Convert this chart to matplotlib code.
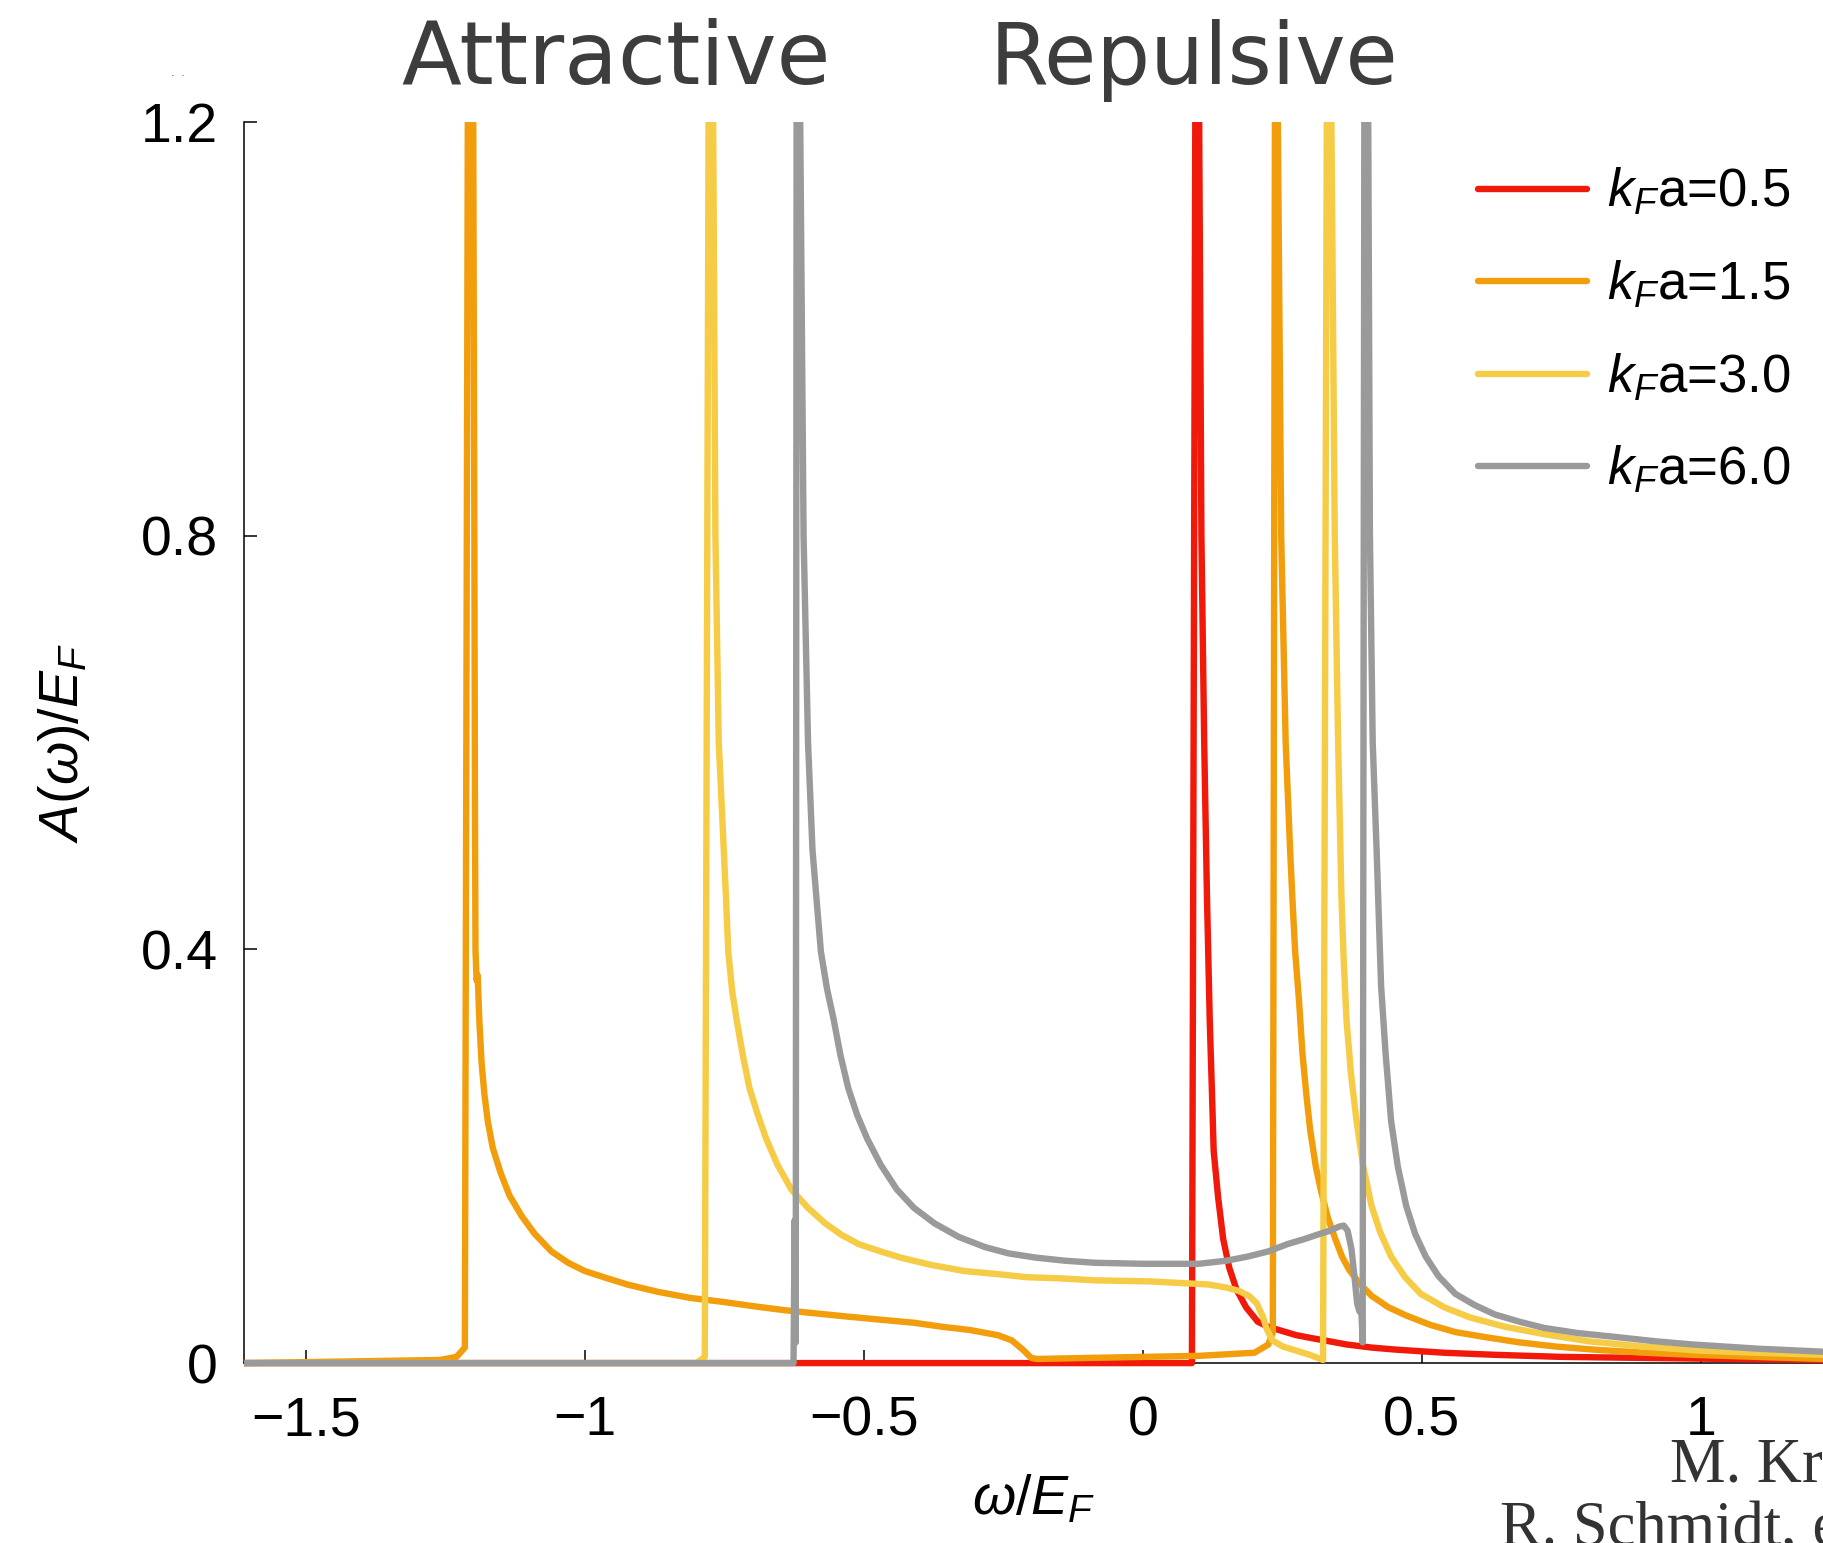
import numpy as np
import matplotlib
matplotlib.use("Agg")
import matplotlib.pyplot as plt
from matplotlib.patches import Rectangle

plt.rcParams['font.family'] = ['Liberation Sans', 'DejaVu Sans']
plt.rcParams['mathtext.fontset'] = 'custom'
plt.rcParams['mathtext.it'] = 'Liberation Sans:italic'
plt.rcParams['mathtext.rm'] = 'Liberation Sans'

# spectral functions (peaks go off the top of the axes)
red_x = [-1.611, 0.088, 0.096, 0.101, 0.105, 0.110, 0.115, 0.120, 0.124, 0.127, 0.135,
         0.144, 0.155, 0.168, 0.185, 0.206, 0.225, 0.250, 0.275, 0.304, 0.335,
         0.365, 0.41, 0.454, 0.54, 0.631, 0.75, 0.896, 1.05, 1.219]
red_y = [0.0, 0.0, 1.6, 1.2, 0.8, 0.6, 0.45, 0.33, 0.26, 0.205, 0.16,
         0.12, 0.092, 0.071, 0.054, 0.040, 0.035, 0.031, 0.027, 0.024, 0.021,
         0.018, 0.015, 0.013, 0.010, 0.008, 0.006, 0.005, 0.004, 0.003]

orange_x = [-1.611, -1.26, -1.23, -1.215, -1.208, -1.200, -1.198, -1.197, -1.196, -1.194,
            -1.192, -1.189, -1.185, -1.180, -1.174, -1.165, -1.151, -1.135, -1.113, -1.090,
            -1.060, -1.030, -1.0, -0.96, -0.924, -0.87, -0.811, -0.75, -0.698, -0.64,
            -0.585, -0.53, -0.471, -0.41, -0.358, -0.31, -0.26, -0.235, -0.215, -0.200,
            -0.19, 0.0, 0.10, 0.20, 0.225, 0.233, 0.238, 0.242, 0.248, 0.256,
            0.264, 0.268, 0.273, 0.280, 0.286, 0.293, 0.300, 0.310, 0.320, 0.332,
            0.345, 0.357, 0.370, 0.390, 0.410, 0.440, 0.472, 0.515, 0.560, 0.615,
            0.675, 0.74, 0.808, 0.90, 0.985, 1.1, 1.219]
orange_y = [0.0, 0.003, 0.006, 0.015, 1.6, 1.2, 0.8, 0.55, 0.40, 0.37,
            0.375, 0.33, 0.29, 0.26, 0.234, 0.208, 0.184, 0.162, 0.142, 0.125,
            0.108, 0.097, 0.089, 0.082, 0.076, 0.069, 0.063, 0.059, 0.055, 0.051,
            0.048, 0.045, 0.042, 0.039, 0.035, 0.032, 0.027, 0.022, 0.013, 0.005,
            0.004, 0.006, 0.007, 0.010, 0.018, 0.030, 1.6, 1.2, 0.8, 0.6,
            0.496, 0.45, 0.398, 0.35, 0.30, 0.26, 0.225, 0.19, 0.165, 0.14,
            0.12, 0.103, 0.09, 0.076, 0.065, 0.054, 0.046, 0.037, 0.030, 0.025,
            0.020, 0.016, 0.013, 0.010, 0.008, 0.006, 0.004]

yellow_x = [-1.611, -0.80, -0.785, -0.776, -0.770, -0.766, -0.760, -0.751, -0.747, -0.743,
            -0.736, -0.728, -0.717, -0.705, -0.690, -0.675, -0.655, -0.630, -0.600, -0.569,
            -0.540, -0.509, -0.470, -0.434, -0.38, -0.320, -0.26, -0.207, -0.15, -0.086,
            0.012, 0.118, 0.150, 0.171, 0.190, 0.204, 0.215, 0.222, 0.232, 0.251,
            0.275, 0.299, 0.323, 0.332, 0.338, 0.344, 0.350, 0.356, 0.360, 0.365,
            0.373, 0.383, 0.395, 0.410, 0.425, 0.445, 0.470, 0.498, 0.54, 0.587,
            0.65, 0.719, 0.80, 0.896, 1.0, 1.1, 1.219]
yellow_y = [0.0, 0.0, 0.006, 1.6, 1.2, 0.8, 0.6, 0.496, 0.45, 0.398,
            0.36, 0.332, 0.298, 0.266, 0.240, 0.217, 0.192, 0.168, 0.150, 0.135,
            0.124, 0.115, 0.108, 0.102, 0.095, 0.089, 0.086, 0.083, 0.082, 0.080,
            0.079, 0.076, 0.073, 0.070, 0.065, 0.058, 0.045, 0.033, 0.022, 0.016,
            0.012, 0.008, 0.003, 1.6, 1.2, 0.8, 0.6, 0.45, 0.39, 0.332,
            0.28, 0.234, 0.19, 0.152, 0.127, 0.103, 0.083, 0.067, 0.054, 0.044,
            0.035, 0.028, 0.021, 0.016, 0.012, 0.010, 0.008]

gray_x = [-1.611, -0.626, -0.624, -0.622, -0.620, -0.614, -0.608, -0.600, -0.592, -0.585,
          -0.577, -0.566, -0.554, -0.542, -0.528, -0.512, -0.494, -0.470, -0.441, -0.410,
          -0.373, -0.330, -0.282, -0.240, -0.192, -0.14, -0.086, 0.0, 0.100, 0.150,
          0.188, 0.225, 0.259, 0.290, 0.312, 0.335, 0.352, 0.360, 0.367, 0.374,
          0.380, 0.384, 0.388, 0.391, 0.394, 0.398, 0.404, 0.407, 0.412, 0.419,
          0.423, 0.427, 0.435, 0.445, 0.457, 0.472, 0.488, 0.507, 0.530, 0.560,
          0.595, 0.631, 0.675, 0.719, 0.78, 0.852, 0.92, 0.985, 1.1, 1.219]
gray_y = [0.0, 0.0, 0.138, 0.02, 1.6, 1.2, 0.8, 0.6, 0.496, 0.45,
          0.398, 0.362, 0.332, 0.298, 0.266, 0.240, 0.217, 0.192, 0.168, 0.150,
          0.135, 0.122, 0.112, 0.106, 0.102, 0.099, 0.097, 0.096, 0.096, 0.099,
          0.103, 0.108, 0.115, 0.120, 0.124, 0.128, 0.132, 0.133, 0.128, 0.110,
          0.080, 0.058, 0.050, 0.060, 0.020, 1.6, 1.2, 0.8, 0.6, 0.496,
          0.43, 0.365, 0.30, 0.234, 0.19, 0.152, 0.125, 0.103, 0.084, 0.067,
          0.056, 0.047, 0.040, 0.034, 0.029, 0.025, 0.021, 0.018, 0.014, 0.011]

labels = [r"$k_F$a=0.5", r"$k_F$a=1.5", r"$k_F$a=3.0", r"$k_F$a=6.0"]
colors = ['#F0190A', '#F29E0C', '#F6CB45', '#9A9A9A']

x_ticks = [-1.5, -1, -0.5, 0, 0.5, 1]
x_ticklabels = ["\u22121.5", "\u22121", "\u22120.5", "0", "0.5", "1"]
y_ticks = [0, 0.4, 0.8, 1.2]
y_ticklabels = ["0", "0.4", "0.8", "1.2"]

fig = plt.figure(figsize=(18.23, 15.43), dpi=100)
ax = fig.add_axes([0.1338, 0.1166, 0.8662, 0.8043])

# let the baseline curves show at full width under the axis line
clip = Rectangle((0, -0.005), 1, 1.005, transform=ax.transAxes, visible=False)
ax.add_patch(clip)

series = [(red_x, red_y), (orange_x, orange_y), (yellow_x, yellow_y), (gray_x, gray_y)]
for (xs, ys), lab, c in zip(series, labels, colors):
    line, = ax.plot(xs, ys, color=c, lw=4.6, label=lab,
                    solid_joinstyle='round', solid_capstyle='round')
    line.set_clip_path(clip)

ax.set_xlim(-1.611, 1.219)
ax.set_ylim(0, 1.2)

for side in ['top', 'right']:
    ax.spines[side].set_visible(False)
for side in ['left', 'bottom']:
    ax.spines[side].set_linewidth(1.1)
    ax.spines[side].set_zorder(0.5)

ax.set_xticks(x_ticks)
ax.set_xticklabels(x_ticklabels)
ax.set_yticks(y_ticks)
ax.set_yticklabels(y_ticklabels)
ax.tick_params(axis='both', direction='in', length=9.5, width=1.1, labelsize=40)
ax.tick_params(axis='x', pad=23)
ax.tick_params(axis='y', pad=19)

ax.set_xlabel(r"$\mathit{\omega/E_F}$", fontsize=40)
ax.xaxis.set_label_coords(0.5, -0.089)
ax.set_ylabel(r"$\mathit{A(\omega)/E_F}$", fontsize=40)
ax.yaxis.set_label_coords(-0.096, 0.5)

ax.legend(loc='upper left', bbox_to_anchor=(0.8108, 0.892), bbox_transform=fig.transFigure,
          frameon=False, fontsize=38, borderpad=0, borderaxespad=0,
          handlelength=2.06, handletextpad=0.38, labelspacing=0.78)

fig.text(401 / 1823, 1 - 84 / 1543, "Attractive", family='DejaVu Sans', fontsize=63,
         color='#3d3d3d', va='baseline')
fig.text(990 / 1823, 1 - 84 / 1543, "Repulsive", family='DejaVu Sans', fontsize=61,
         color='#3d3d3d', va='baseline')
fig.text(0.094, 0.951, ".  .", fontsize=9, color='#555555')

# citation, cut off by the right and bottom edges as in the slide
fig.text(1670 / 1823, 1 - 1482 / 1543, "M. Kroiss", family='Liberation Serif',
         fontsize=45, color='#333333', va='baseline')
fig.text(1500 / 1823, -0.001, "R. Schmidt, et al.", family='Liberation Serif',
         fontsize=45, color='#333333', va='baseline')

fig.savefig("out.png", dpi=100)
